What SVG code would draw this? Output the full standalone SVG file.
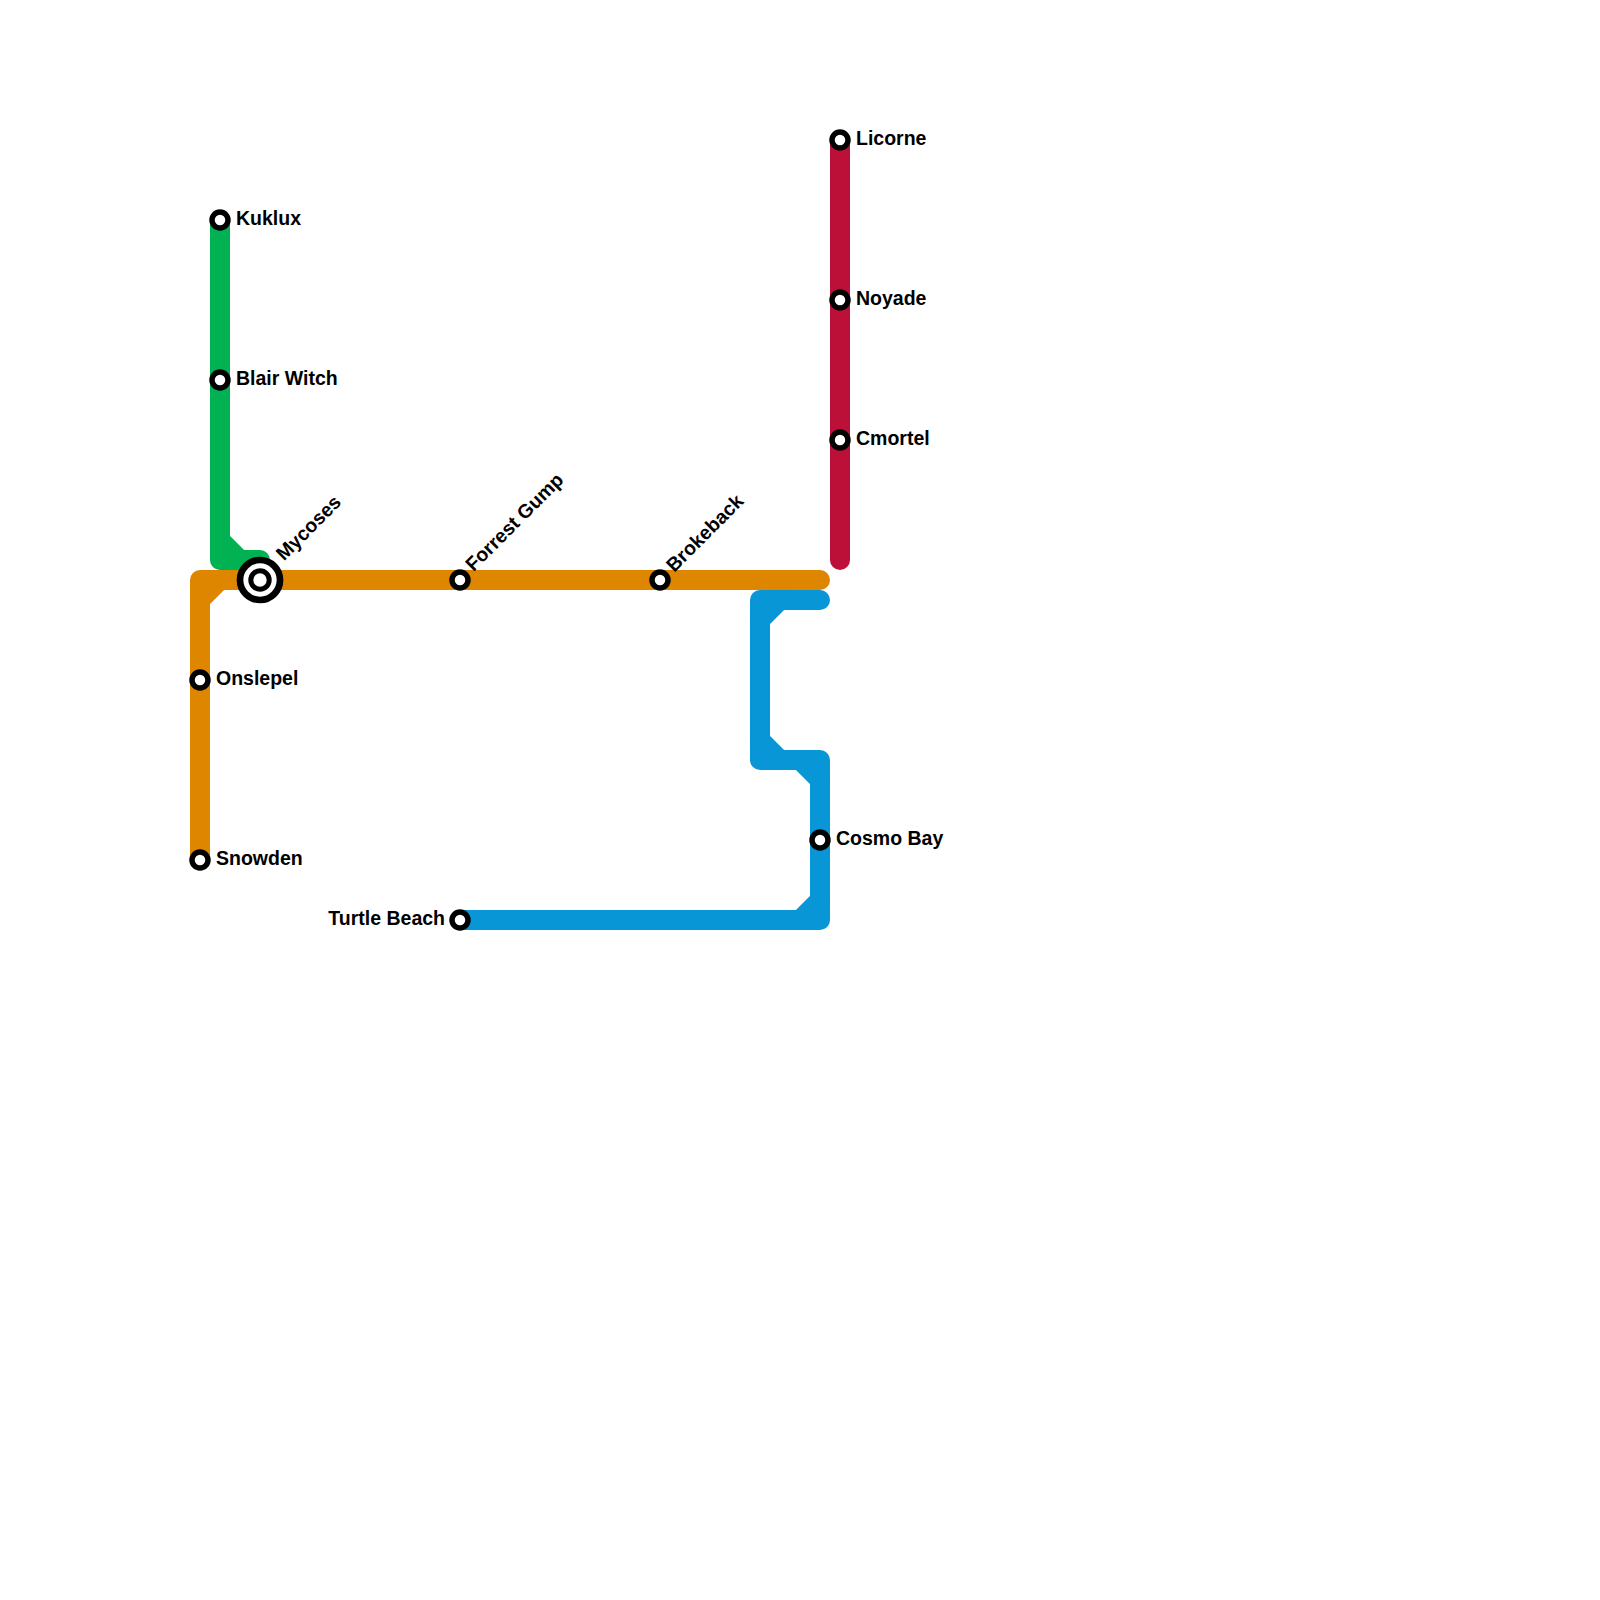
<svg xmlns="http://www.w3.org/2000/svg" width="1600" height="1600" viewBox="0 0 1600 1600">
<style>
.line{fill:none;stroke-width:20;stroke-linecap:round;stroke-linejoin:round}
.st{fill:#fff;stroke:#000;stroke-width:5.5}
.ix{fill:#fff;stroke:#000}
.lbl{font-family:"Liberation Sans",Arial,Helvetica,sans-serif;font-weight:bold;font-size:19.5px;fill:#000}
</style>
<rect width="1600" height="1600" fill="#fff"/>
<g id="connectors">
<g id="line-green">
<path class="line" stroke="#00b251" d="M220,220 V560 H260"/>
<path class="line" stroke="#00b251" d="M220,540 L240,560"/>
</g>
<g id="line-orange">
<path class="line" stroke="#df8600" d="M820,580 H200 V860"/>
<path class="line" stroke="#df8600" d="M220,580 L200,600"/>
</g>
<g id="line-blue">
<path class="line" stroke="#0896d7" d="M820,600 H760 V760 H820 V920 H460"/>
<path class="line" stroke="#0896d7" d="M780,600 L760,620 M760,740 L780,760 M800,760 L820,780 M820,900 L800,920"/>
</g>
<g id="line-red">
<path class="line" stroke="#bd1038" d="M840,140 V560"/>
</g>
</g>
<g id="kuklux"><circle class="st" cx="220" cy="220" r="8"/><text class="lbl" x="236" y="225">Kuklux</text></g>
<g id="blair-witch"><circle class="st" cx="220" cy="380" r="8"/><text class="lbl" x="236" y="385">Blair Witch</text></g>
<g id="mycoses"><circle class="ix" cx="260" cy="580" r="20" stroke-width="6.7"/><circle class="ix" cx="260" cy="580" r="9.2" stroke-width="5"/><text class="lbl" transform="rotate(-45 260 580)" x="290" y="584">Mycoses</text></g>
<g id="forrest-gump"><circle class="st" cx="460" cy="580" r="8"/><text class="lbl" transform="rotate(-45 460 580)" x="475" y="584">Forrest Gump</text></g>
<g id="brokeback"><circle class="st" cx="660" cy="580" r="8"/><text class="lbl" transform="rotate(-45 660 580)" x="675" y="585">Brokeback</text></g>
<g id="onslepel"><circle class="st" cx="200" cy="680" r="8"/><text class="lbl" x="216" y="685">Onslepel</text></g>
<g id="snowden"><circle class="st" cx="200" cy="860" r="8"/><text class="lbl" x="216" y="865">Snowden</text></g>
<g id="licorne"><circle class="st" cx="840" cy="140" r="8"/><text class="lbl" x="856" y="145">Licorne</text></g>
<g id="noyade"><circle class="st" cx="840" cy="300" r="8"/><text class="lbl" x="856" y="305">Noyade</text></g>
<g id="cmortel"><circle class="st" cx="840" cy="440" r="8"/><text class="lbl" x="856" y="445">Cmortel</text></g>
<g id="cosmo-bay"><circle class="st" cx="820" cy="840" r="8"/><text class="lbl" x="836" y="845">Cosmo Bay</text></g>
<g id="turtle-beach"><circle class="st" cx="460" cy="920" r="8"/><text class="lbl" x="445" y="925" text-anchor="end">Turtle Beach</text></g>
</svg>
